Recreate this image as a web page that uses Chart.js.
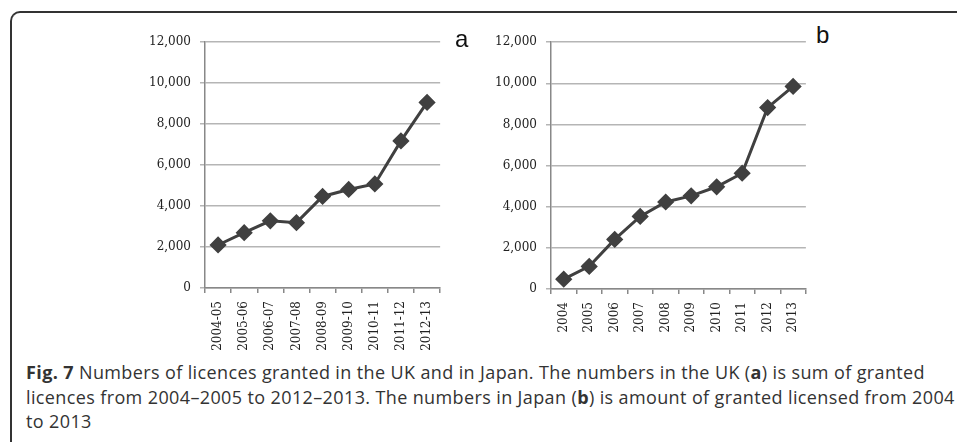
<!DOCTYPE html>
<html>
<head>
<meta charset="utf-8">
<script src="https://cdn.jsdelivr.net/npm/chart.js@4.4.1/dist/chart.umd.min.js"></script>
<style>
  html, body { margin: 0; padding: 0; background: #fff; }
  body { width: 957px; height: 442px; position: relative; overflow: hidden; }
  .frame {
    position: absolute; left: 10px; top: 11px; width: 1000px; height: 500px;
    border-left: 2px solid #333; border-top: 2px solid #333;
    border-top-left-radius: 10px; box-sizing: border-box;
  }
  .box { position: absolute; }
  .tag { position: absolute; font-family: "Liberation Sans", Arial, sans-serif; font-size: 24px; color: #111; }
  .caption {
    position: absolute; left: 26px; top: 360px;
    font-family: "Open Sans", "Noto Sans", sans-serif; font-size: 18px; line-height: 24.5px;
    color: #333; white-space: nowrap;
  }
  .caption span { display: inline-block; }
</style>
</head>
<body>
<div class="frame"></div>

<div class="box" style="left:120px; top:26px; width:330px; height:330px;"><canvas id="ukChart"></canvas></div>
<div class="box" style="left:466px; top:26px; width:350px; height:330px;"><canvas id="jpChart"></canvas></div>

<div class="tag" style="left:455px; top:25px;">a</div>
<div class="tag" style="left:816px; top:21px;">b</div>

<div class="caption" id="caption">
  <span id="capLine1"><b>Fig. 7</b> Numbers of licences granted in the UK and in Japan. The numbers in the UK (<b>a</b>) is sum of granted</span><br>
  <span>licences from 2004–2005 to 2012–2013. The numbers in Japan (<b>b</b>) is amount of granted licensed from 2004</span><br>
  <span>to 2013</span>
</div>

<script>
// licences granted per year
const ukYears = ['2004-05', '2005-06', '2006-07', '2007-08', '2008-09', '2009-10', '2010-11', '2011-12', '2012-13'];
const ukLicences = [2100, 2700, 3280, 3190, 4470, 4810, 5080, 7180, 9060];

const jpYears = ['2004', '2005', '2006', '2007', '2008', '2009', '2010', '2011', '2012', '2013'];
const jpLicences = [480, 1100, 2410, 3530, 4230, 4530, 4970, 5630, 8820, 9850];

const yMin = 0;
const yMax = 12000;
const yStep = 2000;

const tickFont = { family: '"DejaVu Serif", serif', size: 12 };

function makeChart(id, labels, values, yWidth, xHeight, padTop) {
    const ctx = document.getElementById(id).getContext('2d');
    return new Chart(ctx, {
        type: 'line',
        data: {
            labels: labels,
            datasets: [{
                data: values,
                borderColor: '#404040',
                backgroundColor: '#404040',
                borderWidth: 3,
                pointStyle: 'rectRot',
                pointRadius: 6.5,
                pointHoverRadius: 6.5,
                tension: 0
            }]
        },
        options: {
            responsive: true,
            maintainAspectRatio: false,
            animation: false,
            layout: { padding: { top: padTop, right: 8, left: 0, bottom: 0 } },
            plugins: {
                legend: { display: false },
                tooltip: { enabled: false }
            },
            scales: {
                x: {
                    offset: true,
                    grid: {
                        offset: true,
                        drawOnChartArea: false,
                        drawTicks: true,
                        tickLength: 5,
                        color: '#888',
                        lineWidth: 1.5
                    },
                    border: { color: '#888', width: 1.5 },
                    ticks: {
                        font: tickFont,
                        color: '#222',
                        minRotation: 90,
                        maxRotation: 90,
                        autoSkip: false,
                        padding: 8
                    },
                    afterFit: (scale) => { scale.height = xHeight; }
                },
                y: {
                    min: yMin,
                    max: yMax,
                    grid: {
                        color: '#b5b5b5',
                        lineWidth: 1.5,
                        tickLength: 5
                    },
                    border: { color: '#888', width: 1.5 },
                    ticks: {
                        stepSize: yStep,
                        font: tickFont,
                        color: '#222',
                        padding: 9,
                        callback: (v) => v.toLocaleString('en-US')
                    },
                    afterFit: (scale) => { scale.width = yWidth; }
                }
            }
        }
    });
}

makeChart('ukChart', ukYears, ukLicences, 85, 68, 10);
makeChart('jpChart', jpYears, jpLicences, 85, 67, 11);

// fit the caption to the width of the original typesetting
const cap = document.getElementById('caption');
const first = document.getElementById('capLine1');
const w = first.getBoundingClientRect().width;
const chars = first.textContent.length;
cap.style.letterSpacing = ((899 - w) / chars) + 'px';
</script>
</body>
</html>
